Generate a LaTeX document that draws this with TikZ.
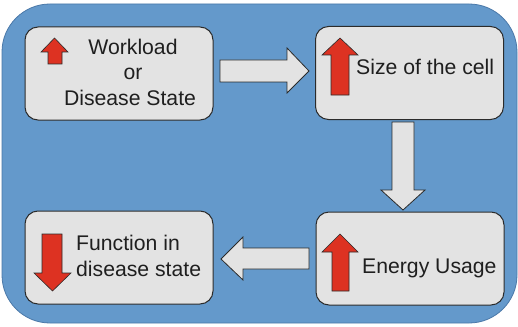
\documentclass[tikz,border=0pt]{standalone}
\usepackage{fontspec}
\setmainfont{Liberation Sans}
\definecolor{bgblue}{HTML}{6499CB}
\definecolor{bgedge}{HTML}{4A78A8}
\definecolor{boxfill}{HTML}{E3E3E3}
\definecolor{edge}{HTML}{2B2B2B}
\definecolor{redarr}{HTML}{DD3222}
\tikzset{
  box/.style={draw=edge, line width=1pt, fill=boxfill, rounded corners=13pt, minimum width=188pt, minimum height=93pt, inner sep=0pt},
  flow/.style={draw=edge, line width=0.8pt, fill=boxfill, line join=miter},
  ind/.style={draw=edge, line width=0.6pt, fill=redarr, line join=miter},
  lbl/.style={font=\fontsize{21.2}{25}\selectfont, text=black!88, inner sep=0pt}
}
\begin{document}
\begin{tikzpicture}[x=1pt,y=-1pt]
\useasboundingbox (0,0) rectangle (518,326);
% background
\draw[fill=bgblue, draw=bgedge, line width=0.8pt, rounded corners=48pt] (2,4) rectangle (517,323);
% boxes
\node[box] (b1) at (119,73.5) {};
\node[box] (b2) at (409.5,73) {};
\node[box] (b3) at (410,258.5) {};
\node[box] (b4) at (119,257.5) {};
% flow arrows
\draw[flow] (220,60) -- (287,60) -- (287,48) -- (309,71) -- (287,93) -- (287,82) -- (220,82) -- cycle;
\draw[flow] (392,122) -- (414,122) -- (414,190) -- (425,190) -- (403,210) -- (381,190) -- (392,190) -- cycle;
\draw[flow] (309,248) -- (243,248) -- (243,237) -- (221,259) -- (243,280) -- (243,269) -- (309,269) -- cycle;
% red indicators
\draw[ind] (54.5,38) -- (68,52) -- (62,52) -- (62,64) -- (48,64) -- (48,52) -- (41,52) -- cycle;
\draw[ind] (340,38) -- (358,55) -- (349,55) -- (349,95) -- (331,95) -- (331,55) -- (322,55) -- cycle;
\draw[ind] (340,234) -- (358,252) -- (349,252) -- (349,291) -- (332,291) -- (332,252) -- (322,252) -- cycle;
\draw[ind] (52.5,291) -- (71,273) -- (62,273) -- (62,234) -- (42,234) -- (42,273) -- (34,273) -- cycle;
% texts
\node[lbl, anchor=base] (t1a) at (133,55) {Workload};
\node[lbl, anchor=base] (t1b) at (133,80) {or};
\node[lbl, anchor=base] (t1c) at (130,106) {Disease State};
\node[lbl, anchor=base west] (t2) at (356,75) {Size of the cell};
\node[lbl, anchor=base west] (t3) at (362,273) {Energy Usage};
\node[lbl, anchor=base west] (t4a) at (76,250) {Function in};
\node[lbl, anchor=base west] (t4b) at (76,276) {disease state};
\end{tikzpicture}
\end{document}
